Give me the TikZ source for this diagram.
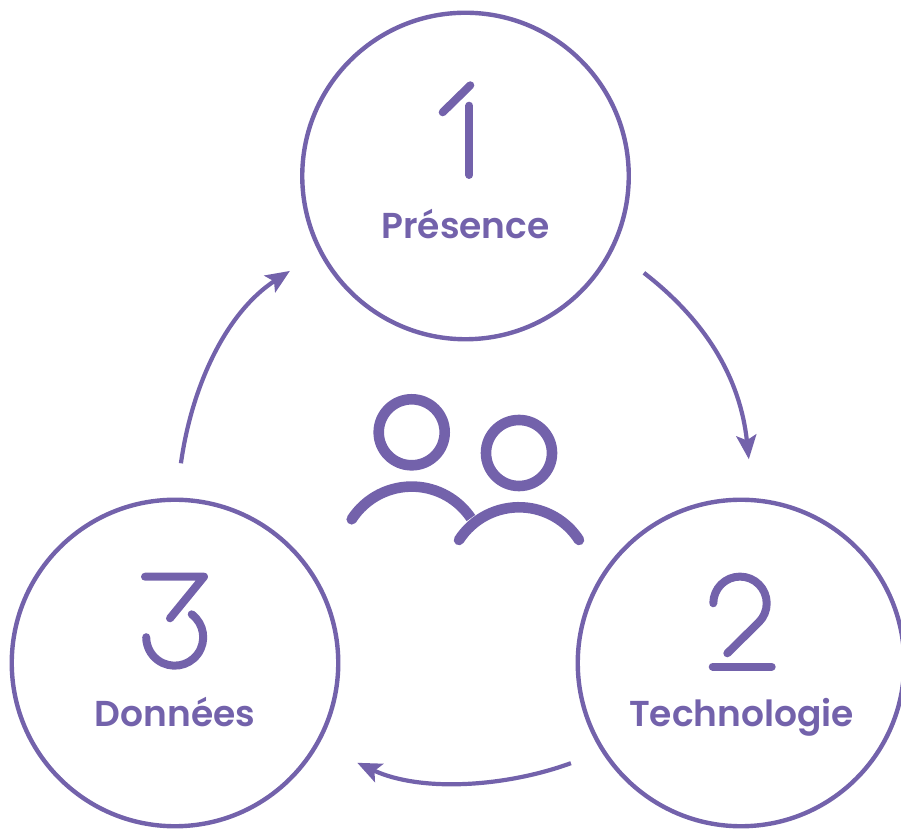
\documentclass[tikz,border=0pt]{standalone}
\usepackage{fontspec}
\setmainfont{Poppins}[UprightFont=* SemiBold]
\usetikzlibrary{arrows.meta,calc}
\definecolor{vio}{HTML}{7362AB}
\tikzset{
  stage/.style={circle,draw=vio,line width=4.4pt,minimum size=326.5pt,inner sep=0pt,outer sep=0pt},
  label/.style={text=vio,font=\fontsize{36}{39}\selectfont,inner sep=0pt,anchor=base},
  digit/.style={draw=vio,line width=8pt,line cap=round,line join=round},
  person/.style={draw=vio,line width=10.6pt},
  flow/.style={draw=vio,line width=4.2pt,-{Stealth[length=24pt,width=20pt,inset=5pt]}}
}
\begin{document}
\begin{tikzpicture}[x=1pt,y=1pt]
\useasboundingbox (0,0) rectangle (901,829);
% stages
\node[stage] (top) at (465.5,653) {};
\node[stage] (right) at (741,166) {};
\node[stage] (left) at (175,166) {};
% labels
\node[label] (lp) at (465.5,590.5) {Présence};
\node[label] (lt) at (741.5,102.5) {Technologie};
\node[label] (ld) at (175,102.5) {Données};
% digit 1
\draw[digit] (442.7,716.7) -- (470.3,743.7);
\draw[digit] (469.3,723.3) -- (469.3,654);
% digit 2
\draw[digit] (713.3,225.7) arc[start angle=180,end angle=-45,radius=26.7] -- (727.3,175.7);
\draw[digit] (712.7,162.3) -- (771.7,162.3);
% digit 3
\draw[digit] (145,252.3) -- (204,252.3) -- (170,210.7);
\draw[digit] (191.7,214.7) arc[start angle=53.4,end angle=-180,radius=28.5];
% people
\node[circle,person,minimum size=66pt,inner sep=0pt,outer sep=0pt] (p1) at (411.7,396.7) {};
\node[circle,person,minimum size=66pt,inner sep=0pt,outer sep=0pt] (p2) at (519,376) {};
\fill[vio] (351.7,309.7) circle[radius=5.3];
\draw[person] (351.7,309.7) arc[start angle=147.2,end angle=34,radius=71.4];
\draw[person,line cap=round] (459,289) arc[start angle=147.2,end angle=32.8,radius=71.4];
% connectors
\coordinate (a1) at ($(top)+(-28.5:203)$);
\coordinate (b1) at ($(right)+(87.8:203.9)$);
\coordinate (a2) at ($(right)+(-149.5:197.4)$);
\coordinate (b2) at ($(left)+(-28.7:207.8)$);
\coordinate (a3) at ($(left)+(88.3:199.8)$);
\coordinate (b3) at ($(top)+(-151.6:199.6)$);
\draw[flow] (a1) .. controls +(-37.7:80) and +(96:80) .. (b1);
\draw[flow] (a2) .. controls +(-160:70) and +(-25:70) .. (b2);
\draw[flow] (a3) .. controls +(82:80) and +(-147:75) .. (b3);
\end{tikzpicture}
\end{document}
